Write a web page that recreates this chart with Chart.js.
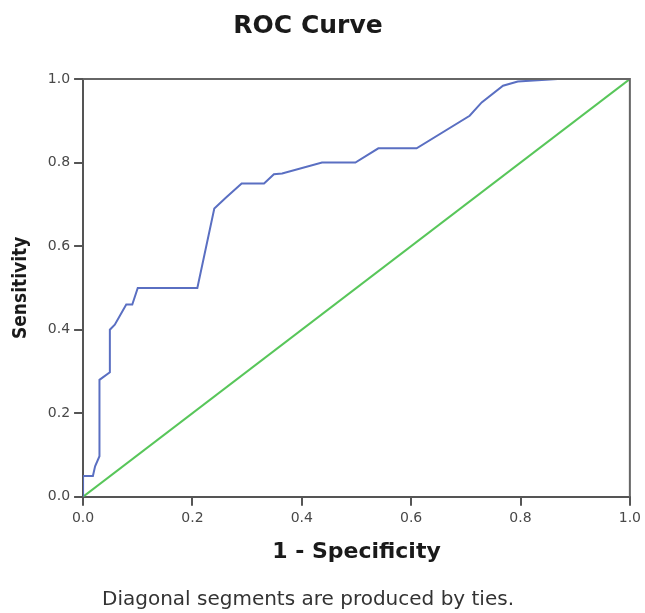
<html>

<head>
	<title>ROC Curve</title>
	<script src="https://cdn.jsdelivr.net/npm/chart.js@4.4.0/dist/chart.umd.min.js"></script>
	<style>
		body {
			margin: 0;
			background: #fff;
		}

		#wrap {
			width: 645px;
			height: 613px;
		}
	</style>
</head>

<body>
	<div id="wrap">
		<canvas id="canvas" role="img" aria-label="ROC curve"></canvas>
	</div>
	<script>
		// 1 - specificity / sensitivity
		const rocX = [0, 0, 0.018, 0.022, 0.030, 0.030, 0.049, 0.049, 0.058, 0.079, 0.090, 0.100, 0.209, 0.240, 0.261, 0.290, 0.331, 0.349, 0.364, 0.437, 0.498, 0.540, 0.610, 0.707, 0.729, 0.768, 0.795, 0.868, 1];
		const rocY = [0, 0.05, 0.05, 0.073, 0.097, 0.28, 0.298, 0.40, 0.412, 0.46, 0.46, 0.50, 0.50, 0.69, 0.716, 0.75, 0.75, 0.772, 0.774, 0.80, 0.80, 0.834, 0.834, 0.912, 0.944, 0.984, 0.994, 1.0, 1.0];
		const refX = [0, 1];
		const refY = [0, 1];
		const tickValues = [0, 0.2, 0.4, 0.6, 0.8, 1.0];

		const toPoints = (xs, ys) => xs.map((x, i) => ({ x: x, y: ys[i] }));

		const axisColor = '#555';
		const sans = "'DejaVu Sans', Verdana, sans-serif";

		const axis = (titleText, titleFont, titlePadding) => ({
			type: 'linear',
			min: 0,
			max: 1,
			afterBuildTicks: (scale) => {
				scale.ticks = tickValues.map((v) => ({ value: v }));
			},
			ticks: {
				color: '#484848',
				font: { family: sans, size: 14 },
				padding: 4,
				callback: (value) => value.toFixed(1),
			},
			grid: {
				display: true,
				drawOnChartArea: false,
				drawTicks: true,
				tickLength: 9,
				color: axisColor,
				lineWidth: 2,
			},
			border: { display: true, color: axisColor, width: 2 },
			title: {
				display: true,
				text: titleText,
				color: '#1a1a1a',
				font: titleFont,
				padding: titlePadding,
			},
		});

		// top and right edges of the frame
		const frame = {
			id: 'frame',
			afterDraw: (chart) => {
				const { ctx, chartArea: a } = chart;
				ctx.save();
				ctx.strokeStyle = '#666';
				ctx.lineWidth = 2;
				ctx.beginPath();
				ctx.moveTo(a.left, a.top);
				ctx.lineTo(a.right, a.top);
				ctx.lineTo(a.right, a.bottom);
				ctx.stroke();
				ctx.restore();
			},
		};

		const xAxis = axis('1 - Specificity',
			{ family: sans, size: 22, weight: 'bold' },
			{ top: 8, bottom: 0 });
		const yAxis = axis('Sensitivity',
			{ family: "'Liberation Sans Narrow', 'DejaVu Sans Condensed', 'Arial Narrow', sans-serif", size: 19, weight: 'bold' },
			{ top: 28, bottom: 11 });

		new Chart(document.getElementById('canvas'), {
			type: 'scatter',
			data: {
				datasets: [
					{
						label: 'ROC',
						data: toPoints(rocX, rocY),
						showLine: true,
						borderColor: '#5a6fc2',
						borderWidth: 2,
						pointRadius: 0,
						tension: 0,
					},
					{
						label: 'Reference',
						data: toPoints(refX, refY),
						showLine: true,
						borderColor: '#58c65a',
						borderWidth: 2,
						pointRadius: 0,
					},
				],
			},
			options: {
				responsive: true,
				maintainAspectRatio: false,
				animation: false,
				layout: {
					// negative left padding pulls the centred title/footnote left like the original
					padding: { left: -18, right: 11, top: 11, bottom: 1 },
				},
				scales: {
					x: xAxis,
					y: yAxis,
				},
				plugins: {
					legend: { display: false },
					tooltip: { enabled: false },
					title: {
						display: true,
						text: 'ROC Curve',
						color: '#1a1a1a',
						font: { family: sans, size: 25, weight: 'bold' },
						padding: { top: 0, bottom: 38 },
					},
					subtitle: {
						display: true,
						position: 'bottom',
						text: 'Diagonal segments are produced by ties.',
						color: '#333',
						font: { family: sans, size: 20 },
						padding: { top: 23, bottom: 0 },
					},
				},
			},
			plugins: [frame],
		});
	</script>
</body>

</html>
